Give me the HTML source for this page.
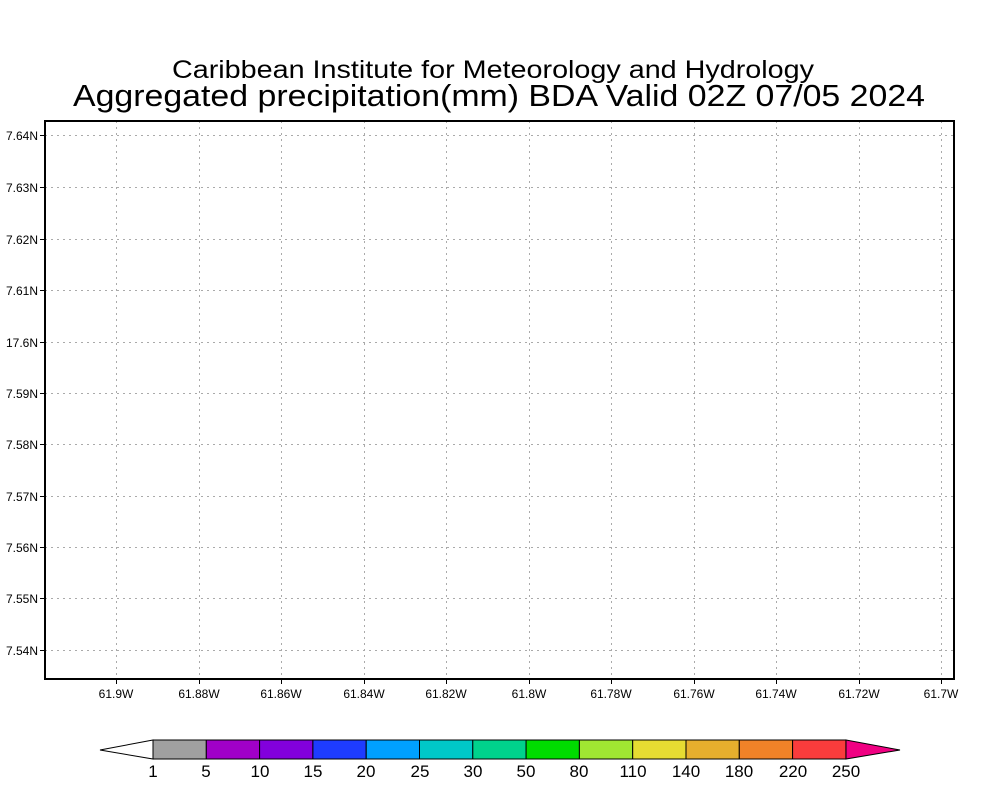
<!DOCTYPE html>
<html><head><meta charset="utf-8"><style>body{margin:0;background:#fff}svg{display:block}</style></head><body>
<svg width="1000" height="800" xmlns="http://www.w3.org/2000/svg" font-family="Liberation Sans, sans-serif">
<rect width="1000" height="800" fill="#fff"/>
<text x="493" y="78" font-size="25" text-anchor="middle" textLength="642" lengthAdjust="spacingAndGlyphs">Caribbean Institute for Meteorology and Hydrology</text>
<text x="499" y="106" font-size="31" text-anchor="middle" textLength="852" lengthAdjust="spacingAndGlyphs">Aggregated precipitation(mm) BDA Valid 02Z 07/05 2024</text>
<g stroke="#aaa" stroke-width="1" stroke-dasharray="2,4">
<line x1="116.5" y1="121" x2="116.5" y2="679"/><line x1="199.5" y1="121" x2="199.5" y2="679"/><line x1="281.5" y1="121" x2="281.5" y2="679"/><line x1="364.5" y1="121" x2="364.5" y2="679"/><line x1="446.5" y1="121" x2="446.5" y2="679"/><line x1="529.5" y1="121" x2="529.5" y2="679"/><line x1="611.5" y1="121" x2="611.5" y2="679"/><line x1="694.5" y1="121" x2="694.5" y2="679"/><line x1="776.5" y1="121" x2="776.5" y2="679"/><line x1="859.5" y1="121" x2="859.5" y2="679"/><line x1="941.5" y1="121" x2="941.5" y2="679"/>
<line x1="45" y1="135.5" x2="954" y2="135.5"/><line x1="45" y1="187.5" x2="954" y2="187.5"/><line x1="45" y1="239.5" x2="954" y2="239.5"/><line x1="45" y1="290.5" x2="954" y2="290.5"/><line x1="45" y1="342.5" x2="954" y2="342.5"/><line x1="45" y1="393.5" x2="954" y2="393.5"/><line x1="45" y1="444.5" x2="954" y2="444.5"/><line x1="45" y1="496.5" x2="954" y2="496.5"/><line x1="45" y1="547.5" x2="954" y2="547.5"/><line x1="45" y1="598.5" x2="954" y2="598.5"/><line x1="45" y1="650.5" x2="954" y2="650.5"/>
</g>
<rect x="45" y="121" width="909" height="558" fill="none" stroke="#000" stroke-width="2"/>
<g stroke="#000" stroke-width="1">
<line x1="40" y1="135.5" x2="45" y2="135.5"/><line x1="40" y1="187.5" x2="45" y2="187.5"/><line x1="40" y1="239.5" x2="45" y2="239.5"/><line x1="40" y1="290.5" x2="45" y2="290.5"/><line x1="40" y1="342.5" x2="45" y2="342.5"/><line x1="40" y1="393.5" x2="45" y2="393.5"/><line x1="40" y1="444.5" x2="45" y2="444.5"/><line x1="40" y1="496.5" x2="45" y2="496.5"/><line x1="40" y1="547.5" x2="45" y2="547.5"/><line x1="40" y1="598.5" x2="45" y2="598.5"/><line x1="40" y1="650.5" x2="45" y2="650.5"/>
<line x1="116.5" y1="679" x2="116.5" y2="684"/><line x1="199.5" y1="679" x2="199.5" y2="684"/><line x1="281.5" y1="679" x2="281.5" y2="684"/><line x1="364.5" y1="679" x2="364.5" y2="684"/><line x1="446.5" y1="679" x2="446.5" y2="684"/><line x1="529.5" y1="679" x2="529.5" y2="684"/><line x1="611.5" y1="679" x2="611.5" y2="684"/><line x1="694.5" y1="679" x2="694.5" y2="684"/><line x1="776.5" y1="679" x2="776.5" y2="684"/><line x1="859.5" y1="679" x2="859.5" y2="684"/><line x1="941.5" y1="679" x2="941.5" y2="684"/>
</g>
<g font-size="12" text-anchor="end">
<text x="38" y="140">7.64N</text><text x="38" y="192">7.63N</text><text x="38" y="244">7.62N</text><text x="38" y="295">7.61N</text><text x="38" y="347">17.6N</text><text x="38" y="398">7.59N</text><text x="38" y="449">7.58N</text><text x="38" y="501">7.57N</text><text x="38" y="552">7.56N</text><text x="38" y="603">7.55N</text><text x="38" y="655">7.54N</text>
</g>
<g font-size="12" text-anchor="middle">
<text x="116" y="698">61.9W</text><text x="199" y="698">61.88W</text><text x="281" y="698">61.86W</text><text x="364" y="698">61.84W</text><text x="446" y="698">61.82W</text><text x="529" y="698">61.8W</text><text x="611" y="698">61.78W</text><text x="694" y="698">61.76W</text><text x="776" y="698">61.74W</text><text x="859" y="698">61.72W</text><text x="941" y="698">61.7W</text>
</g>
<g stroke="#000" stroke-width="1">
<polygon points="100,750 153,740 153,759" fill="#fff"/>
<rect x="153" y="740" width="53.3" height="19" fill="#a0a0a0"/>
<rect x="206.3" y="740" width="53.3" height="19" fill="#a000c8"/>
<rect x="259.6" y="740" width="53.3" height="19" fill="#8200dc"/>
<rect x="312.9" y="740" width="53.3" height="19" fill="#1e3cff"/>
<rect x="366.2" y="740" width="53.3" height="19" fill="#00a0ff"/>
<rect x="419.5" y="740" width="53.3" height="19" fill="#00c8c8"/>
<rect x="472.8" y="740" width="53.3" height="19" fill="#00d28c"/>
<rect x="526.1" y="740" width="53.3" height="19" fill="#00dc00"/>
<rect x="579.4" y="740" width="53.3" height="19" fill="#a0e632"/>
<rect x="632.7" y="740" width="53.3" height="19" fill="#e6dc32"/>
<rect x="686" y="740" width="53.3" height="19" fill="#e6af2d"/>
<rect x="739.3" y="740" width="53.3" height="19" fill="#f08228"/>
<rect x="792.6" y="740" width="53.3" height="19" fill="#fa3c3c"/>
<polygon points="846,740 900,750 846,759" fill="#f00082"/>
</g>
<g font-size="17" text-anchor="middle">
<text x="153" y="777">1</text><text x="206" y="777">5</text><text x="260" y="777">10</text><text x="313" y="777">15</text><text x="366" y="777">20</text><text x="420" y="777">25</text><text x="473" y="777">30</text><text x="526" y="777">50</text><text x="579" y="777">80</text><text x="633" y="777">110</text><text x="686" y="777">140</text><text x="739" y="777">180</text><text x="793" y="777">220</text><text x="846" y="777">250</text>
</g>
</svg>
</body></html>
